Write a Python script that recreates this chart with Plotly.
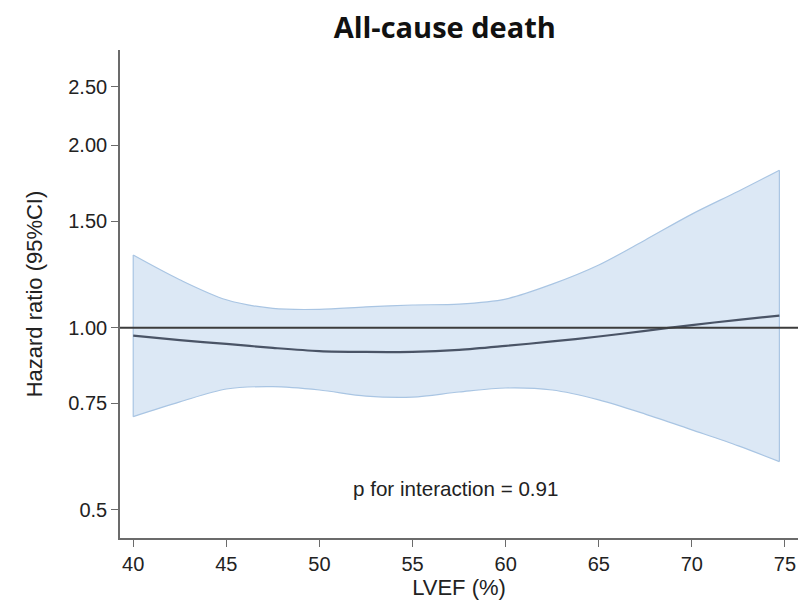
import plotly.graph_objects as go
import numpy as np

# LVEF grid (%)
lvef = [40, 42.5, 45, 47.5, 50, 52.5, 55, 57.5, 60, 62.5, 65, 67.5, 70, 72.5, 74.7]
# Hazard ratio and 95% confidence limits
hr = [0.970, 0.954, 0.940, 0.926, 0.915, 0.912, 0.912, 0.919, 0.933, 0.949,
      0.967, 0.988, 1.010, 1.030, 1.047]
ci_upper = [1.318, 1.200, 1.112, 1.076, 1.072, 1.082, 1.090, 1.094, 1.115, 1.180,
            1.269, 1.396, 1.540, 1.680, 1.820]
ci_lower = [0.713, 0.754, 0.792, 0.799, 0.789, 0.771, 0.768, 0.783, 0.795, 0.789,
            0.760, 0.720, 0.678, 0.638, 0.601]

x_ticks = [40, 45, 50, 55, 60, 65, 70, 75]
y_ticks = [0.5, 0.75, 1.0, 1.5, 2.0, 2.5]
y_ticklabels = ["0.5", "0.75", "1.00", "1.50", "2.00", "2.50"]

band_line = "#a9c5e3"
band_fill = "#dce8f5"
curve_color = "#4a5466"
axis_color = "#6b6b6b"
text_color = "#222222"
font_family = "Liberation Sans, Arial, Helvetica, sans-serif"

fig = go.Figure()

# Confidence band: lower bound, then upper bound filled down to it
fig.add_trace(go.Scatter(
    x=lvef, y=ci_lower, mode="lines",
    line=dict(color=band_line, width=1.2, shape="spline", smoothing=0.9),
    showlegend=False, hoverinfo="skip"))
fig.add_trace(go.Scatter(
    x=lvef, y=ci_upper, mode="lines", fill="tonexty", fillcolor=band_fill,
    line=dict(color=band_line, width=1.2, shape="spline", smoothing=0.9),
    showlegend=False, hoverinfo="skip"))
# Vertical closing edges of the band
for xe, lo, hi in [(lvef[0], ci_lower[0], ci_upper[0]), (lvef[-1], ci_lower[-1], ci_upper[-1])]:
    fig.add_trace(go.Scatter(x=[xe, xe], y=[lo, hi], mode="lines",
                             line=dict(color=band_line, width=1.2),
                             showlegend=False, hoverinfo="skip"))

# Reference line at HR = 1
fig.add_shape(type="line", xref="paper", x0=0, x1=1, yref="y", y0=1.0, y1=1.0,
              line=dict(color="#3c3c3c", width=2))

# Hazard ratio curve
fig.add_trace(go.Scatter(
    x=lvef, y=hr, mode="lines",
    line=dict(color=curve_color, width=2.2, shape="spline", smoothing=0.9),
    showlegend=False))

fig.add_annotation(x=57.35, y=np.log10(0.5435), xref="x", yref="y",
                   text="p for interaction = 0.91", showarrow=False,
                   font=dict(family=font_family, size=20.6, color=text_color))

fig.update_layout(
    width=800, height=600,
    margin=dict(l=120, r=2, t=50, b=62),
    paper_bgcolor="white", plot_bgcolor="white",
    title=dict(text="<b>All-cause death</b>", x=0.556, xanchor="center",
               y=0.953, yanchor="middle",
               font=dict(family="Open Sans, Lato, sans-serif", size=29, color="#111111")),
    xaxis=dict(
        range=[39.29, 75.7], tickvals=x_ticks,
        showline=True, linecolor=axis_color, linewidth=1.6,
        ticks="outside", ticklen=7, tickcolor=axis_color, tickwidth=1.4,
        showgrid=False, zeroline=False,
        tickfont=dict(family=font_family, size=20, color=text_color),
        title=dict(text="LVEF (%)", standoff=6,
                   font=dict(family=font_family, size=22, color=text_color))),
    yaxis=dict(
        type="log", range=[np.log10(0.4495), np.log10(2.874)],
        tickvals=y_ticks, ticktext=y_ticklabels,
        showline=True, linecolor=axis_color, linewidth=1.6,
        ticks="outside", ticklen=7, tickcolor=axis_color, tickwidth=1.4,
        showgrid=False, zeroline=False,
        tickfont=dict(family=font_family, size=20, color=text_color),
        title=dict(text="Hazard ratio (95%CI)", standoff=20,
                   font=dict(family=font_family, size=22, color=text_color))),
)

fig.write_html("out.html")
